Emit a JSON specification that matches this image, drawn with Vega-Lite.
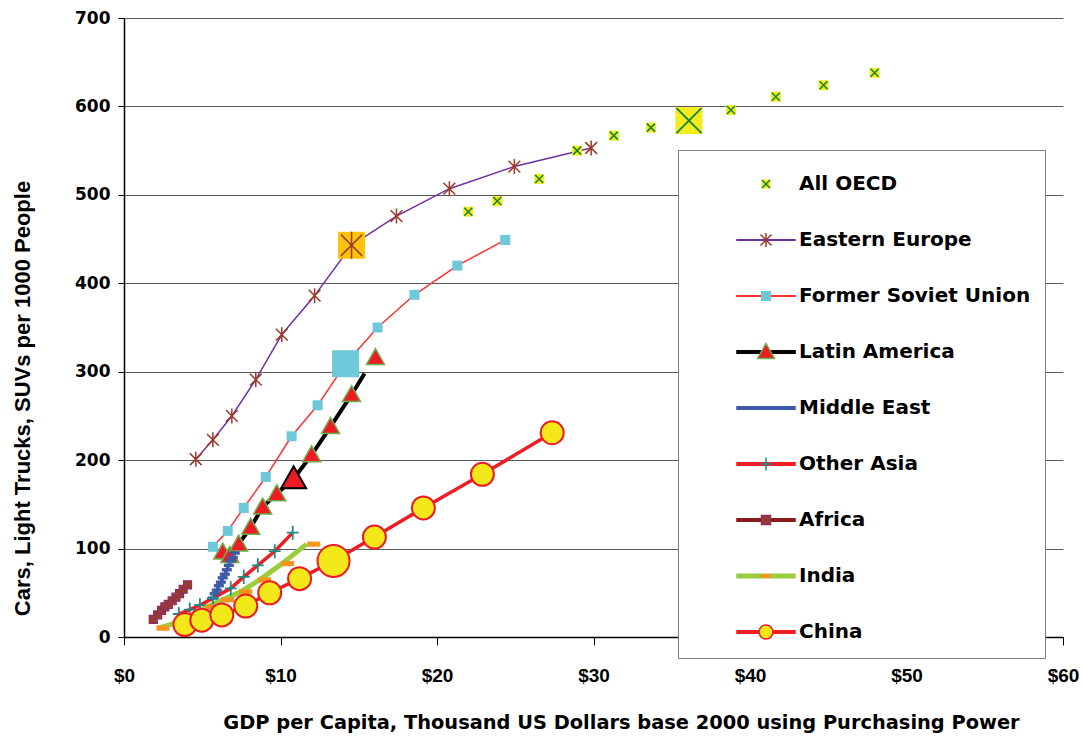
{
  "$schema": "https://vega.github.io/schema/vega-lite/v6.json",
  "width": 939,
  "height": 619,
  "autosize": "none",
  "padding": {"left": 124, "top": 18, "right": 21, "bottom": 99},
  "background": "white",
  "config": {"view": {"stroke": null}, "font": "Liberation Sans"},
  "data": {"values": [
    {"s": "All OECD", "o": 1, "x": 22.0, "y": 481, "k": "n"},
    {"s": "All OECD", "o": 1, "x": 23.85, "y": 493, "k": "n"},
    {"s": "All OECD", "o": 1, "x": 26.53, "y": 518, "k": "n"},
    {"s": "All OECD", "o": 1, "x": 28.95, "y": 550, "k": "n"},
    {"s": "All OECD", "o": 1, "x": 31.3, "y": 567, "k": "n"},
    {"s": "All OECD", "o": 1, "x": 33.67, "y": 576, "k": "n"},
    {"s": "All OECD", "o": 1, "x": 36.1, "y": 584, "k": "b"},
    {"s": "All OECD", "o": 1, "x": 38.78, "y": 596, "k": "n"},
    {"s": "All OECD", "o": 1, "x": 41.65, "y": 611, "k": "n"},
    {"s": "All OECD", "o": 1, "x": 44.7, "y": 624, "k": "n"},
    {"s": "All OECD", "o": 1, "x": 47.96, "y": 638, "k": "n"},
    {"s": "Eastern Europe", "o": 2, "x": 4.59, "y": 201, "k": "n"},
    {"s": "Eastern Europe", "o": 2, "x": 5.68, "y": 223, "k": "n"},
    {"s": "Eastern Europe", "o": 2, "x": 6.89, "y": 250, "k": "n"},
    {"s": "Eastern Europe", "o": 2, "x": 8.42, "y": 291, "k": "n"},
    {"s": "Eastern Europe", "o": 2, "x": 10.08, "y": 342, "k": "n"},
    {"s": "Eastern Europe", "o": 2, "x": 12.18, "y": 386, "k": "n"},
    {"s": "Eastern Europe", "o": 2, "x": 14.54, "y": 443, "k": "b"},
    {"s": "Eastern Europe", "o": 2, "x": 17.41, "y": 476, "k": "n"},
    {"s": "Eastern Europe", "o": 2, "x": 20.79, "y": 507, "k": "n"},
    {"s": "Eastern Europe", "o": 2, "x": 24.94, "y": 532, "k": "n"},
    {"s": "Eastern Europe", "o": 2, "x": 29.85, "y": 553, "k": "n"},
    {"s": "Former Soviet Union", "o": 3, "x": 5.68, "y": 102, "k": "n"},
    {"s": "Former Soviet Union", "o": 3, "x": 6.63, "y": 120, "k": "n"},
    {"s": "Former Soviet Union", "o": 3, "x": 7.65, "y": 146, "k": "n"},
    {"s": "Former Soviet Union", "o": 3, "x": 9.06, "y": 181, "k": "n"},
    {"s": "Former Soviet Union", "o": 3, "x": 10.71, "y": 227, "k": "n"},
    {"s": "Former Soviet Union", "o": 3, "x": 12.37, "y": 262, "k": "n"},
    {"s": "Former Soviet Union", "o": 3, "x": 14.16, "y": 309, "k": "b"},
    {"s": "Former Soviet Union", "o": 3, "x": 16.2, "y": 350, "k": "n"},
    {"s": "Former Soviet Union", "o": 3, "x": 18.56, "y": 387, "k": "n"},
    {"s": "Former Soviet Union", "o": 3, "x": 21.3, "y": 420, "k": "n"},
    {"s": "Former Soviet Union", "o": 3, "x": 24.36, "y": 449, "k": "n"},
    {"s": "Latin America", "o": 4, "x": 6.31, "y": 96, "k": "n"},
    {"s": "Latin America", "o": 4, "x": 6.76, "y": 92, "k": "n"},
    {"s": "Latin America", "o": 4, "x": 7.33, "y": 105, "k": "n"},
    {"s": "Latin America", "o": 4, "x": 8.1, "y": 124, "k": "n"},
    {"s": "Latin America", "o": 4, "x": 8.86, "y": 147, "k": "n"},
    {"s": "Latin America", "o": 4, "x": 9.76, "y": 162, "k": "n"},
    {"s": "Latin America", "o": 4, "x": 10.84, "y": 179, "k": "b"},
    {"s": "Latin America", "o": 4, "x": 11.99, "y": 206, "k": "n"},
    {"s": "Latin America", "o": 4, "x": 13.2, "y": 238, "k": "n"},
    {"s": "Latin America", "o": 4, "x": 14.54, "y": 274, "k": "n"},
    {"s": "Latin America", "o": 4, "x": 15.37, "y": 298, "k": "l"},
    {"s": "Latin America", "o": 4, "x": 16.07, "y": 316, "k": "m"},
    {"s": "Middle East", "o": 5, "x": 5.68, "y": 44, "k": "n"},
    {"s": "Middle East", "o": 5, "x": 5.8, "y": 49, "k": "n"},
    {"s": "Middle East", "o": 5, "x": 5.93, "y": 53, "k": "n"},
    {"s": "Middle East", "o": 5, "x": 6.06, "y": 58, "k": "n"},
    {"s": "Middle East", "o": 5, "x": 6.19, "y": 62, "k": "n"},
    {"s": "Middle East", "o": 5, "x": 6.31, "y": 67, "k": "n"},
    {"s": "Middle East", "o": 5, "x": 6.44, "y": 71, "k": "n"},
    {"s": "Middle East", "o": 5, "x": 6.57, "y": 76, "k": "n"},
    {"s": "Middle East", "o": 5, "x": 6.7, "y": 81, "k": "n"},
    {"s": "Middle East", "o": 5, "x": 6.82, "y": 86, "k": "n"},
    {"s": "Middle East", "o": 5, "x": 6.95, "y": 90, "k": "n"},
    {"s": "Middle East", "o": 5, "x": 7.08, "y": 95, "k": "n"},
    {"s": "Other Asia", "o": 6, "x": 3.5, "y": 26, "k": "n"},
    {"s": "Other Asia", "o": 6, "x": 4.2, "y": 31, "k": "n"},
    {"s": "Other Asia", "o": 6, "x": 4.85, "y": 36, "k": "n"},
    {"s": "Other Asia", "o": 6, "x": 5.68, "y": 44, "k": "n"},
    {"s": "Other Asia", "o": 6, "x": 6.82, "y": 55, "k": "n"},
    {"s": "Other Asia", "o": 6, "x": 7.65, "y": 68, "k": "n"},
    {"s": "Other Asia", "o": 6, "x": 8.55, "y": 81, "k": "n"},
    {"s": "Other Asia", "o": 6, "x": 9.63, "y": 97, "k": "n"},
    {"s": "Other Asia", "o": 6, "x": 10.78, "y": 118, "k": "n"},
    {"s": "Africa", "o": 7, "x": 1.87, "y": 20, "k": "n"},
    {"s": "Africa", "o": 7, "x": 2.15, "y": 25, "k": "n"},
    {"s": "Africa", "o": 7, "x": 2.4, "y": 30, "k": "n"},
    {"s": "Africa", "o": 7, "x": 2.61, "y": 34, "k": "n"},
    {"s": "Africa", "o": 7, "x": 2.83, "y": 37, "k": "n"},
    {"s": "Africa", "o": 7, "x": 3.08, "y": 41, "k": "n"},
    {"s": "Africa", "o": 7, "x": 3.32, "y": 45, "k": "n"},
    {"s": "Africa", "o": 7, "x": 3.55, "y": 49, "k": "n"},
    {"s": "Africa", "o": 7, "x": 3.78, "y": 54, "k": "n"},
    {"s": "Africa", "o": 7, "x": 4.06, "y": 59, "k": "n"},
    {"s": "India", "o": 8, "x": 2.49, "y": 10, "k": "m"},
    {"s": "India", "o": 8, "x": 3.57, "y": 16, "k": "m"},
    {"s": "India", "o": 8, "x": 4.59, "y": 25, "k": "m"},
    {"s": "India", "o": 8, "x": 5.61, "y": 34, "k": "m"},
    {"s": "India", "o": 8, "x": 6.63, "y": 42, "k": "m"},
    {"s": "India", "o": 8, "x": 7.78, "y": 51, "k": "m"},
    {"s": "India", "o": 8, "x": 8.99, "y": 64.5, "k": "m"},
    {"s": "India", "o": 8, "x": 10.46, "y": 83, "k": "m"},
    {"s": "India", "o": 8, "x": 12.12, "y": 105, "k": "m"},
    {"s": "India", "o": 8, "x": 2.2, "y": 10, "k": "l"},
    {"s": "India", "o": 8, "x": 3.3, "y": 16, "k": "l"},
    {"s": "India", "o": 8, "x": 4.3, "y": 25, "k": "l"},
    {"s": "India", "o": 8, "x": 5.3, "y": 34, "k": "l"},
    {"s": "India", "o": 8, "x": 6.3, "y": 42, "k": "l"},
    {"s": "India", "o": 8, "x": 7.45, "y": 51, "k": "l"},
    {"s": "India", "o": 8, "x": 8.65, "y": 64.5, "k": "l"},
    {"s": "India", "o": 8, "x": 10.1, "y": 83, "k": "l"},
    {"s": "India", "o": 8, "x": 11.67, "y": 105, "k": "l"},
    {"s": "China", "o": 9, "x": 3.89, "y": 14, "k": "n"},
    {"s": "China", "o": 9, "x": 4.97, "y": 19, "k": "n"},
    {"s": "China", "o": 9, "x": 6.25, "y": 25, "k": "n"},
    {"s": "China", "o": 9, "x": 7.78, "y": 35, "k": "n"},
    {"s": "China", "o": 9, "x": 9.31, "y": 50, "k": "n"},
    {"s": "China", "o": 9, "x": 11.22, "y": 66, "k": "n"},
    {"s": "China", "o": 9, "x": 13.39, "y": 86, "k": "b"},
    {"s": "China", "o": 9, "x": 16.0, "y": 113, "k": "n"},
    {"s": "China", "o": 9, "x": 19.13, "y": 146, "k": "n"},
    {"s": "China", "o": 9, "x": 22.9, "y": 184, "k": "n"},
    {"s": "China", "o": 9, "x": 27.36, "y": 231, "k": "n"}
  ]},
  "encoding": {
    "x": {"field": "x", "type": "quantitative", "scale": {"domain": [0, 60], "nice": false},
      "axis": {"values": [0, 10, 20, 30, 40, 50, 60], "labelExpr": "'$' + datum.value", "grid": false,
        "labelFlush": false, "labelFont": "Liberation Sans", "labelFontWeight": "bold", "labelFontSize": 19, "labelColor": "black",
        "tickSize": 8, "tickColor": "black", "labelPadding": 21, "domainColor": "black", "domainWidth": 1.5,
        "title": "GDP per Capita, Thousand US Dollars base 2000 using Purchasing Power",
        "titleFont": "DejaVu Sans", "titleFontWeight": "bold", "titleFontSize": 19.4, "titleColor": "black",
        "titleX": 497, "titleY": 85, "titleBaseline": "middle", "titleAnchor": "middle"}},
    "y": {"field": "y", "type": "quantitative", "scale": {"domain": [0, 700], "nice": false},
      "axis": {"values": [0, 100, 200, 300, 400, 500, 600, 700], "grid": true, "gridColor": "#5a5a5a", "gridWidth": 1.2,
        "labelFont": "DejaVu Sans", "labelFontWeight": "bold", "labelFontSize": 17, "labelColor": "black",
        "tickSize": 6, "tickColor": "black", "labelPadding": 8, "domainColor": "black", "domainWidth": 1.5,
        "title": "Cars, Light Trucks, SUVs per 1000 People",
        "titleFont": "Liberation Sans", "titleFontWeight": "bold", "titleFontSize": 22, "titleColor": "black",
        "titleX": -102, "titleY": 380, "titleBaseline": "middle", "titleAnchor": "middle"}}
  },
  "layer": [
    {
      "transform": [{"filter": "datum.k != 'm'"}],
      "mark": {"type": "line", "strokeJoin": "round"},
      "encoding": {
        "stroke": {"field": "s", "type": "nominal", "sort": {"field": "o", "op": "min"},
          "scale": {"range": ["transparent", "#7030a0", "#ff3030", "#000000", "#3c5aa8", "#ee1c24", "#8b1a1a", "#9acd3c", "#ee1c24"]},
          "legend": {
            "orient": "none", "legendX": 554, "legendY": 132,
            "title": " ", "titleOrient": "top", "titleFontSize": 1, "titlePadding": 8,
            "padding": 14, "rowPadding": 20, "symbolSize": 400, "symbolStrokeWidth": 1.5, "symbolOffset": 63,
            "labelOffset": 22, "labelFont": "DejaVu Sans", "labelFontSize": 20, "labelFontWeight": "bold",
            "labelColor": "black", "labelLimit": 500,
            "labelExpr": "datum.label + '          '",
            "fillColor": "white", "strokeColor": "#7f7f7f", "zindex": 1,
            "symbolType": {"expr": "['M0,-2.1L0,-2.1M0,0.9L0,0.9M-0.45,-0.45H0.45V0.45H-0.45Z','M0,-2.1L0,-2.1M0,0.9L0,0.9M-2.9,-0.025H2.9V0.025H-2.9Z','M0,-2.1L0,-2.1M0,0.9L0,0.9M-2.9,-0.025H2.9V0.025H-2.9Z','M0,-2.1L0,-2.1M0,0.9L0,0.9M-2.9,-0.125H2.9V0.125H-2.9Z','M0,-2.1L0,-2.1M0,0.9L0,0.9M-2.9,-0.125H2.9V0.125H-2.9Z','M0,-2.1L0,-2.1M0,0.9L0,0.9M-2.9,-0.125H2.9V0.125H-2.9Z','M0,-2.1L0,-2.1M0,0.9L0,0.9M-2.9,-0.125H2.9V0.125H-2.9Z','M0,-2.1L0,-2.1M0,0.9L0,0.9M-2.9,-0.175H2.9V0.175H-2.9Z','M0,-2.1L0,-2.1M0,0.9L0,0.9M-2.9,-0.125H2.9V0.125H-2.9Z'][datum.index]"},
            "symbolFillColor": {"expr": "['#f2ec1b','#7030a0','#ff3030','#000000','#3c5aa8','#ee1c24','#8b1a1a','#9acd3c','#ee1c24'][datum.index]"}
          }},
        "strokeWidth": {"condition": [
          {"test": "datum.o == 2", "value": 1.5},
          {"test": "datum.o == 3", "value": 1.5},
          {"test": "datum.o == 4", "value": 4},
          {"test": "datum.o == 8", "value": 5}
        ], "value": 3.5}
      }
    },
    {
      "transform": [{"filter": "datum.o == 1 || (datum.o == 2 && datum.k == 'b')"}],
      "mark": {"type": "point", "opacity": 1, "shape": "square", "strokeWidth": 0},
      "encoding": {
        "size": {"condition": [
          {"test": "datum.k == 'b'", "value": 729}
        ], "value": 100},
        "fill": {"condition": [
          {"test": "datum.o == 2", "value": "#fcc30b"}
        ], "value": "#f2ec1b"}
      }
    },
    {
      "transform": [{"filter": "datum.k != 'l'"}],
      "mark": {"type": "point", "opacity": 1},
      "encoding": {
        "shape": {"field": "s", "type": "nominal", "sort": {"field": "o", "op": "min"},
          "scale": {"range": [
            "M0,-2.1L0,-2.1M0,0.9L0,0.9M-0.4,-0.4L0.4,0.4M-0.4,0.4L0.4,-0.4",
            "M0,-2.1L0,-2.1M0,0.9L0,0.9M-0.55,-0.55L0.55,0.55M-0.55,0.55L0.55,-0.55M0,-0.7L0,0.7",
            "M0,-2.1L0,-2.1M0,0.9L0,0.9M-0.5,-0.5H0.5V0.5H-0.5Z",
            "M0,-2.1L0,-2.1M0,0.9L0,0.9M0,-0.85L0.85,0.65L-0.85,0.65Z",
            "M0,-2.1L0,-2.1M0,0.9L0,0.9M-0.45,-0.15H0.45V0.15H-0.45Z",
            "M0,-2.1L0,-2.1M0,0.9L0,0.9M-0.55,0H0.55M0,-0.65L0,0.65",
            "M0,-2.1L0,-2.1M0,0.9L0,0.9M-0.45,-0.45H0.45V0.45H-0.45Z",
            "M0,-2.1L0,-2.1M0,0.9L0,0.9M-0.5,-0.2H0.5V0.2H-0.5Z",
            "M0,-2.1L0,-2.1M0,0.9L0,0.9M-0.7,0A0.7,0.7 0 1,1 0.7,0A0.7,0.7 0 1,1 -0.7,0Z"
          ]},
          "legend": {
            "orient": "none", "legendX": 554, "legendY": 132,
            "title": " ", "titleOrient": "top", "titleFontSize": 1, "titlePadding": 8,
            "padding": 14, "rowPadding": 20, "symbolSize": 400, "symbolStrokeWidth": 1.5, "symbolOffset": 63,
            "labelOffset": 22, "labelFont": "DejaVu Sans", "labelFontSize": 20, "labelFontWeight": "bold",
            "labelExpr": "''", "zindex": 2, "symbolOpacity": 1,
            "symbolFillColor": {"expr": "['transparent','transparent','#6dc8da','#ed1c24','#3c5aa8','transparent','#9a3a2c','#f7941d','#f2e81a'][datum.index]"},
            "symbolStrokeColor": {"expr": "['#14803c','#9c3a26','transparent','#6ab04c','transparent','#1b8b8b','#8a2e6a','transparent','#ed1c24'][datum.index]"}
          }},
        "fill": {"field": "s", "type": "nominal", "sort": {"field": "o", "op": "min"},
          "scale": {"range": ["transparent", "transparent", "#6dc8da", "#ed1c24", "#3c5aa8", "transparent", "#9a3a2c", "#f7941d", "#f2e81a"]},
          "legend": null},
        "size": {"condition": [
          {"test": "datum.o == 1 && datum.k == 'b'", "value": 3906},
          {"test": "datum.o == 1", "value": 400},
          {"test": "datum.o == 2 && datum.k == 'b'", "value": 1488},
          {"test": "datum.o == 2", "value": 459},
          {"test": "datum.o == 3 && datum.k == 'b'", "value": 2916},
          {"test": "datum.o == 3", "value": 400},
          {"test": "datum.o == 4 && datum.k == 'b'", "value": 865},
          {"test": "datum.o == 4", "value": 449},
          {"test": "datum.o == 5", "value": 494},
          {"test": "datum.o == 6", "value": 467},
          {"test": "datum.o == 7", "value": 316},
          {"test": "datum.o == 8", "value": 676},
          {"test": "datum.o == 9 && datum.k == 'b'", "value": 2090}
        ], "value": 1080},
        "stroke": {"condition": [
          {"test": "datum.o == 1", "value": "#14803c"},
          {"test": "datum.o == 2", "value": "#9c3a26"},
          {"test": "datum.o == 4 && datum.k == 'b'", "value": "#000000"},
          {"test": "datum.o == 4", "value": "#6ab04c"},
          {"test": "datum.o == 6", "value": "#1b8b8b"},
          {"test": "datum.o == 7", "value": "#8a2e6a"},
          {"test": "datum.o == 9", "value": "#ed1c24"}
        ], "value": "transparent"},
        "strokeWidth": {"condition": [
          {"test": "datum.o == 1 && datum.k == 'b'", "value": 1.8},
          {"test": "datum.o == 1", "value": 1.5},
          {"test": "datum.o == 2", "value": 1.5},
          {"test": "datum.o == 4 && datum.k == 'b'", "value": 2},
          {"test": "datum.o == 4", "value": 1.5},
          {"test": "datum.o == 6", "value": 1.8},
          {"test": "datum.o == 7", "value": 1.2},
          {"test": "datum.o == 9", "value": 2}
        ], "value": 0}
      }
    }
  ]
}
